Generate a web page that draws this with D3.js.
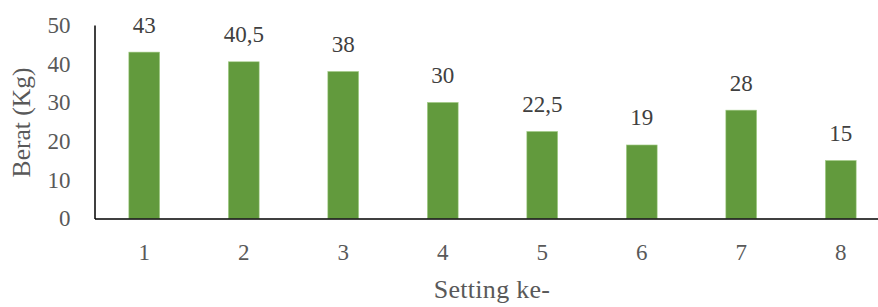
<!DOCTYPE html>
<html><head><meta charset="utf-8">
<script src="https://cdn.jsdelivr.net/npm/d3@7"></script>
<style>body{margin:0;background:#fff;overflow:hidden}</style>
</head><body>
<svg id="c" width="878" height="307"></svg>
<script>
const categories = ["1","2","3","4","5","6","7","8"];
const values = [43, 40.5, 38, 30, 22.5, 19, 28, 15];
const valueLabels = ["43","40,5","38","30","22,5","19","28","15"];
const yTicks = [0,10,20,30,40,50];
const yTitle = "Berat (Kg)";
const xTitle = "Setting ke-";

(function(){
const svg = d3.select("#c");
const font = "'Liberation Serif', 'DejaVu Serif', serif";
const mL = 94.5, mR = 890.5, mT = 25, mB = 218.5;
const x = d3.scaleBand().domain(categories).range([mL, mR]).paddingInner(0.69).paddingOuter(0.345);
const y = d3.scaleLinear().domain([0,50]).range([mB, mT]);

svg.selectAll("rect.bar").data(values).enter().append("rect")
  .attr("class","bar")
  .attr("x",(d,i)=>x(categories[i]))
  .attr("y",d=>y(d))
  .attr("width",x.bandwidth())
  .attr("height",d=>y(0)-y(d))
  .attr("fill","#629a3d")
  .attr("stroke","#a9d08e").attr("stroke-width",0.6);

const ya = svg.append("g").attr("transform",`translate(${mL},0)`)
  .call(d3.axisLeft(y).tickValues(yTicks).tickSize(0).tickPadding(24));
ya.select(".domain").attr("stroke","#000").attr("stroke-width",1.5);
ya.selectAll("text").attr("font-family",font).attr("font-size",23).attr("fill","#595959");

const xa = svg.append("g").attr("transform",`translate(0,${mB})`)
  .call(d3.axisBottom(x).tickSize(0));
xa.select(".domain").attr("stroke","#000").attr("stroke-width",1.5);
xa.selectAll("text").attr("font-family",font).attr("font-size",23).attr("fill","#595959")
  .attr("y",41.5).attr("dy",0);

svg.selectAll("text.lbl").data(values).enter().append("text")
  .attr("class","lbl")
  .attr("x",(d,i)=>x(categories[i])+x.bandwidth()/2)
  .attr("y",d=>y(d)-19.5)
  .attr("text-anchor","middle")
  .attr("font-family",font).attr("font-size",23).attr("fill","#404040")
  .text((d,i)=>valueLabels[i]);

svg.append("text").attr("transform",`translate(30,122.5) rotate(-90)`)
  .attr("text-anchor","middle").attr("font-family",font).attr("font-size",25.5).attr("fill","#595959")
  .text(yTitle);
svg.append("text").attr("x",492).attr("y",297.5).attr("text-anchor","middle")
  .attr("font-family",font).attr("font-size",26).attr("letter-spacing",0.3).attr("fill","#595959").text(xTitle);
})();
</script>
</body></html>
